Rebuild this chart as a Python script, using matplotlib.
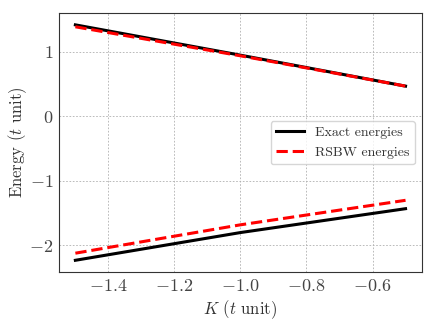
import matplotlib
matplotlib.use("Agg")
import matplotlib.pyplot as plt

plt.rcParams["font.family"] = "serif"
plt.rcParams["font.serif"] = ["cmr10"]
plt.rcParams["mathtext.fontset"] = "cm"
plt.rcParams["axes.formatter.use_mathtext"] = True
plt.rcParams["text.color"] = "#333333"
plt.rcParams["axes.labelcolor"] = "#333333"
plt.rcParams["xtick.color"] = "#444444"
plt.rcParams["ytick.color"] = "#444444"

K = [-1.5, -1.0, -0.5]
exact_upper = [1.42, 0.95, 0.47]
exact_lower = [-2.23, -1.80, -1.43]
rsbw_upper = [1.39, 0.94, 0.47]
rsbw_lower = [-2.12, -1.68, -1.30]

fig, ax = plt.subplots(figsize=(4.36, 3.27), dpi=100)
ax.plot(K, exact_upper, "k-", lw=2.2, label="Exact energies")
ax.plot(K, exact_lower, "k-", lw=2.2)
ax.plot(K, rsbw_upper, "r--", lw=2.2, label="RSBW energies")
ax.plot(K, rsbw_lower, "r--", lw=2.2)

ax.grid(True, ls=(0, (2, 2)), color="#b0b0b0", lw=0.6)
ax.set_xlabel(r"$K$ ($t$ unit)", fontsize=12, labelpad=3)
ax.set_ylabel(r"Energy ($t$ unit)", fontsize=12, labelpad=0)
ax.tick_params(labelsize=13, length=0, pad=4)
ax.legend(loc="center right", fontsize=10)
for s in ax.spines.values():
    s.set_color("#333333")

fig.subplots_adjust(left=0.135, right=0.968, top=0.96, bottom=0.168)
fig.savefig("out.png", dpi=100)
